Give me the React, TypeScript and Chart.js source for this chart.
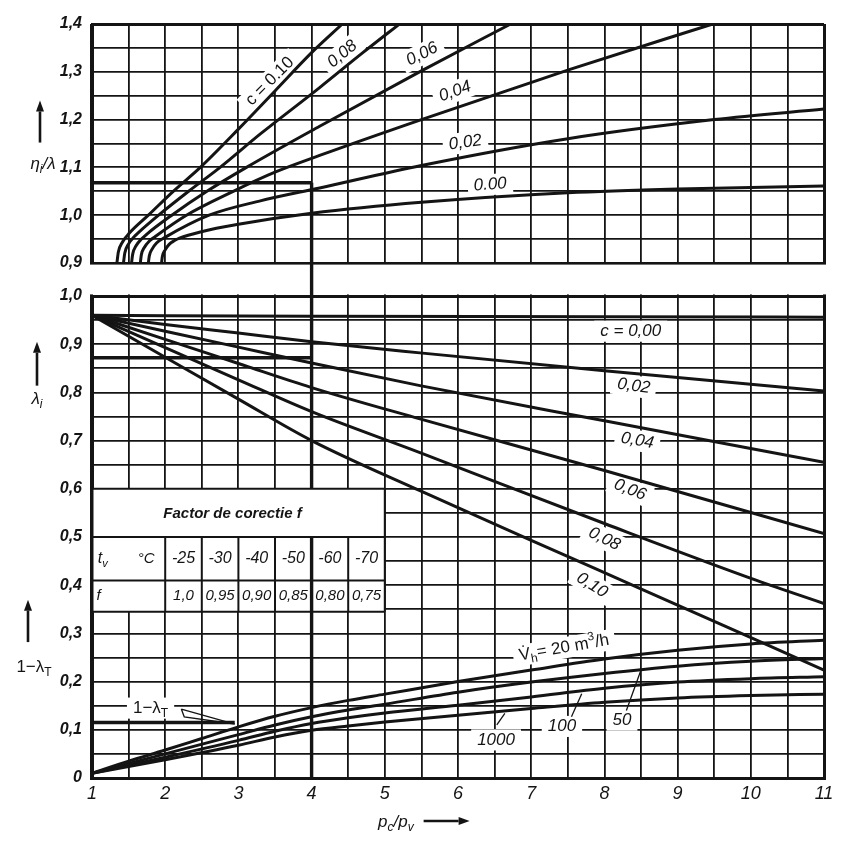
import React, { useEffect, useRef } from 'react';
import { Chart, registerables } from 'chart.js';

Chart.register(...registerables);

const FF = "'Liberation Sans', Arial, 'DejaVu Sans', sans-serif";
const INK = '#141414';

// ---------- axes ----------
const xRange = [1, 11];
const xTickValues = [1, 2, 3, 4, 5, 6, 7, 8, 9, 10, 11];
const xTickLabels = ['1', '2', '3', '4', '5', '6', '7', '8', '9', '10', '11'];
const topYRange = [0.9, 1.4];
const topTickValues = [0.9, 1.0, 1.1, 1.2, 1.3, 1.4];
const topTickLabels = ['0,9', '1,0', '1,1', '1,2', '1,3', '1,4'];
const botYRange = [0, 1.0];
const botTickValues = [0, 0.1, 0.2, 0.3, 0.4, 0.5, 0.6, 0.7, 0.8, 0.9, 1.0];
const botTickLabels = ['0', '0,1', '0,2', '0,3', '0,4', '0,5', '0,6', '0,7', '0,8', '0,9', '1,0'];

// ---------- top panel: eta_i / lambda, one curve per c ----------
const topC000 = [[1.95, 0.9], [1.962, 0.914], [1.998, 0.927], [2.054, 0.939], [2.128, 0.947], [2.195, 0.952], [2.48, 0.965], [3.0, 0.981], [4.0, 1.004], [5.5, 1.027], [7.5, 1.047], [9.0, 1.055], [11, 1.061]];
const topC002 = [[1.77, 0.9], [1.783, 0.915], [1.821, 0.929], [1.882, 0.942], [1.991, 0.953], [2.6, 1.0], [3.3, 1.03], [4.11, 1.057], [5.5, 1.104], [7.5, 1.16], [9.5, 1.2], [11, 1.222]];
const topC004 = [[1.66, 0.9], [1.674, 0.917], [1.717, 0.933], [1.784, 0.946], [1.86, 0.955], [2.29, 1.0], [2.93, 1.05], [3.5, 1.09], [4.11, 1.125], [5.5, 1.2], [7.53, 1.305], [9.48, 1.4]];
const topC006 = [[1.54, 0.9], [1.556, 0.9185], [1.602, 0.936], [1.676, 0.95], [1.731, 0.958], [2.09, 1.0], [2.57, 1.05], [3.11, 1.1], [4.11, 1.186], [5.5, 1.302], [6.72, 1.4]];
const topC008 = [[1.43, 0.9], [1.448, 0.921], [1.5, 0.94], [1.582, 0.956], [1.63, 0.963], [1.91, 1.0], [2.32, 1.05], [2.75, 1.1], [3.3, 1.17], [4.11, 1.267], [4.7, 1.34], [5.2, 1.4]];
const topC010 = [[1.34, 0.9], [1.36, 0.923], [1.417, 0.944], [1.508, 0.962], [1.77, 1.0], [2.11, 1.05], [2.48, 1.1], [3.0, 1.18], [3.5, 1.26], [4.0, 1.34], [4.42, 1.4]];

// ---------- bottom panel: lambda_i, one line per c ----------
const botC000 = [[1, 0.96], [4, 0.958], [8, 0.957], [11, 0.956]];
const botC002 = [[1, 0.96], [2, 0.941], [3, 0.923], [4, 0.905], [5.48, 0.882], [8, 0.845], [11, 0.803]];
const botC004 = [[1, 0.96], [2, 0.927], [3, 0.894], [4, 0.861], [5.48, 0.814], [8, 0.741], [11, 0.655]];
const botC006 = [[1, 0.96], [2, 0.91], [3, 0.86], [4, 0.81], [5.48, 0.745], [8, 0.638], [11, 0.507]];
const botC008 = [[1, 0.96], [2, 0.893], [3, 0.826], [4, 0.76], [5.48, 0.675], [8, 0.528], [10.08, 0.41], [11, 0.362]];
const botC010 = [[1, 0.96], [2, 0.873], [3, 0.786], [4, 0.7], [5.48, 0.596], [7, 0.493], [8.49, 0.393], [11, 0.224]];

// ---------- bottom panel: 1 - lambda_T, one curve per V_h ----------
const lamT20 = [[1, 0.01], [1.5, 0.035], [2, 0.058], [2.5, 0.082], [3, 0.106], [3.5, 0.128], [4, 0.146], [4.5, 0.161], [5, 0.174], [6, 0.2], [7, 0.224], [8, 0.247], [9, 0.265], [10, 0.278], [11, 0.286]];
const lamT50 = [[1, 0.01], [2, 0.05], [3, 0.09], [3.5, 0.11], [4, 0.127], [4.5, 0.141], [5, 0.153], [6, 0.178], [7, 0.199], [8, 0.217], [9, 0.232], [10, 0.242], [11, 0.248]];
const lamT100 = [[1, 0.01], [2, 0.043], [3, 0.078], [3.5, 0.097], [4, 0.113], [4.5, 0.125], [5, 0.135], [6, 0.151], [7, 0.168], [8, 0.186], [9, 0.199], [10, 0.206], [11, 0.21]];
const lamT1000 = [[1, 0.01], [2, 0.038], [3, 0.068], [3.5, 0.085], [4, 0.099], [4.5, 0.108], [5, 0.116], [6, 0.13], [7, 0.144], [8, 0.157], [9, 0.166], [10, 0.171], [11, 0.174]];

// ---------- example reading lines ----------
const readTopH = [[1, 1.068], [4, 1.068]];
const readTopV = [[4, 1.068], [4, 0.9]];
const readGapV = [[4, 0], [4, 1]];
const readBotV1 = [[4, 1.0], [4, 0.6]];
const readBotV2 = [[4, 0.5], [4, 0]];
const readBotH = [[1, 0.872], [4, 0.872]];
const readLamTH = [[1, 0.115], [2.95, 0.115]];
const lamTPointer = [[2.22, 0.143], [2.95, 0.112], [2.26, 0.127], [2.22, 0.143]];
const lead50 = [[8.3, 0.14], [8.5, 0.224]];
const lead100 = [[7.55, 0.127], [7.69, 0.175]];
const lead1000 = [[6.53, 0.11], [6.64, 0.134]];

// ---------- correction factor table ----------
const tvValues = ['-25', '-30', '-40', '-50', '-60', '-70'];
const fValues = ['1,0', '0,95', '0,90', '0,85', '0,80', '0,75'];

type Part = [string, ('sub' | 'sup')?];

// label annotations (placement only)
const curveLabels: { axis: string; parts: Part[]; x: number; y: number; rot: number; style: string; size: number }[] = [
  { axis: 'yTop', parts: [['c = 0.10']], x: 3.43, y: 1.28, rot: -45, style: 'normal', size: 17 },
  { axis: 'yTop', parts: [['0,08']], x: 4.42, y: 1.337, rot: -40, style: 'italic', size: 17 },
  { axis: 'yTop', parts: [['0,06']], x: 5.51, y: 1.337, rot: -27, style: 'italic', size: 17 },
  { axis: 'yTop', parts: [['0,04']], x: 5.96, y: 1.259, rot: -20, style: 'italic', size: 17 },
  { axis: 'yTop', parts: [['0,02']], x: 6.1, y: 1.152, rot: -8, style: 'italic', size: 17 },
  { axis: 'yTop', parts: [['0.00']], x: 6.44, y: 1.064, rot: -4, style: 'italic', size: 17 },
  { axis: 'yBot', parts: [['c = 0,00']], x: 8.36, y: 0.927, rot: 0, style: 'italic', size: 17 },
  { axis: 'yBot', parts: [['0,02']], x: 8.4, y: 0.813, rot: 8, style: 'italic', size: 17 },
  { axis: 'yBot', parts: [['0,04']], x: 8.45, y: 0.7, rot: 10, style: 'italic', size: 17 },
  { axis: 'yBot', parts: [['0,06']], x: 8.35, y: 0.598, rot: 22, style: 'italic', size: 17 },
  { axis: 'yBot', parts: [['0,08']], x: 8.0, y: 0.496, rot: 27, style: 'italic', size: 17 },
  { axis: 'yBot', parts: [['0,10']], x: 7.83, y: 0.4, rot: 32, style: 'italic', size: 17 },
  { axis: 'yBot', parts: [['V\u0307'], ['h', 'sub'], ['= 20 m'], ['3', 'sup'], ['/h']], x: 7.45, y: 0.27, rot: -10, style: 'normal', size: 17 },
  { axis: 'yBot', parts: [['50']], x: 8.24, y: 0.12, rot: 0, style: 'italic', size: 17 },
  { axis: 'yBot', parts: [['100']], x: 7.42, y: 0.107, rot: 0, style: 'italic', size: 17 },
  { axis: 'yBot', parts: [['1000']], x: 6.52, y: 0.079, rot: 0, style: 'italic', size: 17 },
  { axis: 'yBot', parts: [['1\u2212\u03bb'], ['T', 'sub']], x: 1.8, y: 0.145, rot: 0, style: 'normal', size: 17 },
];

function fontOf(style: string, size: number) {
  return `${style} ${size}px ${FF}`;
}
function measureParts(ctx: CanvasRenderingContext2D, parts: Part[], size: number, style: string) {
  let w = 0;
  for (const [t, k] of parts) {
    ctx.font = fontOf(style, k ? Math.round(size * 0.7) : size);
    w += ctx.measureText(t).width;
  }
  return w;
}
function drawParts(ctx: CanvasRenderingContext2D, parts: Part[], x: number, y: number, size: number, style: string, align: string) {
  const w = measureParts(ctx, parts, size, style);
  let cx = align === 'left' ? x : align === 'right' ? x - w : x - w / 2;
  ctx.textAlign = 'left';
  ctx.textBaseline = 'middle';
  ctx.fillStyle = INK;
  for (const [t, k] of parts) {
    const s = k ? Math.round(size * 0.7) : size;
    ctx.font = fontOf(style, s);
    const dy = k === 'sub' ? size * 0.32 : k === 'sup' ? -size * 0.36 : 0;
    ctx.fillText(t, cx, y + dy);
    cx += ctx.measureText(t).width;
  }
  return w;
}
function drawLabel(ctx: CanvasRenderingContext2D, parts: Part[], px: number, py: number, rot: number, size: number, style: string) {
  ctx.save();
  ctx.translate(px, py);
  ctx.rotate((rot * Math.PI) / 180);
  const w = measureParts(ctx, parts, size, style);
  ctx.fillStyle = '#fff';
  ctx.fillRect(-w / 2 - 6, -size * 0.62, w + 12, size * 1.24);
  drawParts(ctx, parts, 0, 0, size, style, 'center');
  ctx.restore();
}
function drawArrow(ctx: CanvasRenderingContext2D, x1: number, y1: number, x2: number, y2: number) {
  const a = Math.atan2(y2 - y1, x2 - x1);
  const hl = 11, hw = 4;
  ctx.save();
  ctx.strokeStyle = INK;
  ctx.fillStyle = INK;
  ctx.lineWidth = 2.6;
  ctx.beginPath();
  ctx.moveTo(x1, y1);
  ctx.lineTo(x2 - hl * Math.cos(a), y2 - hl * Math.sin(a));
  ctx.stroke();
  ctx.beginPath();
  ctx.moveTo(x2, y2);
  ctx.lineTo(x2 - hl * Math.cos(a) + hw * Math.sin(a), y2 - hl * Math.sin(a) - hw * Math.cos(a));
  ctx.lineTo(x2 - hl * Math.cos(a) - hw * Math.sin(a), y2 - hl * Math.sin(a) + hw * Math.cos(a));
  ctx.closePath();
  ctx.fill();
  ctx.restore();
}

const nomogramPlugin = {
  id: 'nomogram',
  beforeDatasetsDraw(chart: any) {
    const { ctx, chartArea, scales } = chart;
    const xs = scales.x, yt = scales.yTop, yb = scales.yBot;
    ctx.save();
    // blank gap between the two panels
    ctx.fillStyle = '#fff';
    ctx.fillRect(chartArea.left - 8, yt.bottom + 1.6, chartArea.right - chartArea.left + 16, yb.top - yt.bottom - 3.2);

    // correction factor table
    const X = (v: number) => xs.getPixelForValue(v);
    const Y = (v: number) => yb.getPixelForValue(v);
    const rows = [0.6, 0.5, 0.41, 0.345];
    const x1 = X(1), x5 = X(5);
    ctx.fillStyle = '#fff';
    ctx.fillRect(x1 + 1.5, Y(rows[0]), x5 - x1 - 1.5, Y(rows[3]) - Y(rows[0]));
    ctx.strokeStyle = INK;
    ctx.lineWidth = 2;
    ctx.beginPath();
    for (const r of rows) {
      ctx.moveTo(x1, Y(r));
      ctx.lineTo(x5, Y(r));
    }
    ctx.moveTo(x5, Y(rows[0]));
    ctx.lineTo(x5, Y(rows[3]));
    for (let i = 0; i < 6; i++) {
      const cx = 2 + 0.5 * i;
      if (cx === 4) continue;
      ctx.moveTo(X(cx), Y(rows[1]));
      ctx.lineTo(X(cx), Y(rows[3]));
    }
    ctx.stroke();
    drawParts(ctx, [['Factor de corectie f']], X(2.92), Y(0.547), 15, 'italic bold', 'center');
    const ytv = Y(0.455), yf = Y(0.378);
    drawParts(ctx, [['t'], ['v', 'sub']], X(1.08), ytv, 16, 'italic', 'left');
    drawParts(ctx, [['\u00b0C']], X(1.74), ytv, 15, 'italic', 'center');
    drawParts(ctx, [['f']], X(1.06), yf, 15, 'italic', 'left');
    tvValues.forEach((t, i) => drawParts(ctx, [[t]], X(2.25 + 0.5 * i), ytv, 16, 'italic', 'center'));
    fValues.forEach((t, i) => drawParts(ctx, [[t]], X(2.25 + 0.5 * i), yf, 15, 'italic', 'center'));

    // curve labels
    for (const l of curveLabels) {
      const ys = scales[l.axis];
      drawLabel(ctx, l.parts, xs.getPixelForValue(l.x), ys.getPixelForValue(l.y), l.rot, l.size, l.style);
    }
    ctx.restore();
  },
  afterDraw(chart: any) {
    const { ctx, chartArea, scales } = chart;
    const yt = scales.yTop, yb = scales.yBot;
    const L = chartArea.left;
    ctx.save();
    // eta_i / lambda
    drawArrow(ctx, L - 52, yt.getPixelForValue(1.152), L - 52, yt.getPixelForValue(1.24));
    drawParts(ctx, [['\u03b7'], ['i', 'sub'], ['/\u03bb']], L - 49, yt.getPixelForValue(1.106), 17, 'italic', 'center');
    // lambda_i
    drawArrow(ctx, L - 55, yb.getPixelForValue(0.814), L - 55, yb.getPixelForValue(0.905));
    drawParts(ctx, [['\u03bb'], ['i', 'sub']], L - 55, yb.getPixelForValue(0.785), 17, 'italic', 'center');
    // 1 - lambda_T
    drawArrow(ctx, L - 64, yb.getPixelForValue(0.282), L - 64, yb.getPixelForValue(0.37));
    drawParts(ctx, [['1\u2212\u03bb'], ['T', 'sub']], L - 58, yb.getPixelForValue(0.23), 17, 'normal', 'center');
    // x title
    const tx = (chartArea.left + chartArea.right) / 2 - 80;
    const ty = chartArea.bottom + 44;
    const w = drawParts(ctx, [['p'], ['c', 'sub'], ['/p'], ['v', 'sub']], tx, ty, 17, 'italic', 'left');
    drawArrow(ctx, tx + w + 10, ty - 1, tx + w + 56, ty - 1);
    ctx.restore();
  },
};

const toPts = (a: number[][]) => a.map(([x, y]) => ({ x, y }));

function curve(data: number[][], axis: string, width = 3, smooth = true) {
  return {
    data: toPts(data),
    yAxisID: axis,
    borderColor: INK,
    borderWidth: width,
    pointRadius: 0,
    fill: false,
    tension: 0,
    cubicInterpolationMode: smooth ? 'monotone' : 'default',
  };
}

function tickFmt(values: number[], labels: string[]) {
  return (v: any) => {
    const i = values.findIndex((t) => Math.abs(t - Number(v)) < 1e-6);
    return i >= 0 ? labels[i] : '';
  };
}

function isEdge(v: number, range: number[]) {
  return Math.abs(v - range[0]) < 1e-6 || Math.abs(v - range[1]) < 1e-6;
}

export default function App() {
  const ref = useRef<HTMLCanvasElement | null>(null);
  useEffect(() => {
    if (!ref.current) return;
    const tickFont = { family: FF, size: 16, style: 'italic' as const, weight: 'bold' as const };
    const chart = new Chart(ref.current, {
      type: 'line',
      data: {
        datasets: [
          curve(topC000, 'yTop'), curve(topC002, 'yTop'), curve(topC004, 'yTop'),
          curve(topC006, 'yTop'), curve(topC008, 'yTop'), curve(topC010, 'yTop'),
          curve(botC000, 'yBot'), curve(botC002, 'yBot'), curve(botC004, 'yBot'),
          curve(botC006, 'yBot'), curve(botC008, 'yBot'), curve(botC010, 'yBot'),
          curve(lamT20, 'yBot'), curve(lamT50, 'yBot'), curve(lamT100, 'yBot'), curve(lamT1000, 'yBot'),
          curve(readTopH, 'yTop', 3.4, false), curve(readTopV, 'yTop', 3.4, false),
          curve(readGapV, 'yGap', 3.4, false), curve(readBotV1, 'yBot', 3.4, false),
          curve(readBotV2, 'yBot', 3.4, false), curve(readBotH, 'yBot', 3.4, false),
          curve(readLamTH, 'yBot', 3.4, false), curve(lamTPointer, 'yBot', 1.3, false),
          curve(lead50, 'yBot', 1.3, false), curve(lead100, 'yBot', 1.3, false), curve(lead1000, 'yBot', 1.3, false),
        ] as any,
      },
      options: {
        animation: false,
        responsive: false,
        devicePixelRatio: 1,
        layout: { padding: { left: 40, right: 22, top: 24, bottom: 31 } },
        plugins: { legend: { display: false }, tooltip: { enabled: false } },
        events: [],
        scales: {
          x: {
            type: 'linear',
            min: xRange[0],
            max: xRange[1],
            position: 'bottom',
            ticks: {
              stepSize: 0.5,
              autoSkip: false,
              maxRotation: 0,
              padding: 5,
              color: INK,
              font: { family: FF, size: 18, style: 'italic' },
              callback: tickFmt(xTickValues, xTickLabels),
            },
            grid: {
              color: INK,
              drawTicks: false,
              lineWidth: (c: any) => (c.tick && isEdge(c.tick.value, xRange) ? 3 : 1.8),
            },
            border: { color: INK, width: 3 },
            afterFit: (s: any) => { s.height = 40; },
          },
          yTop: {
            type: 'linear',
            position: 'left',
            stack: 'panels',
            stackWeight: 239,
            weight: 3,
            min: topYRange[0],
            max: topYRange[1],
            ticks: { stepSize: 0.05, autoSkip: false, padding: 10, color: INK, font: tickFont, callback: tickFmt(topTickValues, topTickLabels) },
            grid: { color: INK, drawTicks: false, lineWidth: (c: any) => (c.tick && isEdge(c.tick.value, topYRange) ? 3 : 1.8) },
            border: { color: INK, width: 3 },
            afterFit: (s: any) => { s.width = 52; },
          },
          yGap: {
            type: 'linear',
            position: 'left',
            stack: 'panels',
            stackWeight: 33,
            weight: 2,
            min: 0,
            max: 1,
            ticks: { display: false },
            grid: { display: false },
            border: { display: false },
            afterFit: (s: any) => { s.width = 52; },
          },
          yBot: {
            type: 'linear',
            position: 'left',
            stack: 'panels',
            stackWeight: 482,
            weight: 1,
            min: botYRange[0],
            max: botYRange[1],
            ticks: { stepSize: 0.05, autoSkip: false, padding: 10, color: INK, font: tickFont, callback: tickFmt(botTickValues, botTickLabels) },
            grid: { color: INK, drawTicks: false, lineWidth: (c: any) => (c.tick && isEdge(c.tick.value, botYRange) ? 3 : 1.8) },
            border: { color: INK, width: 3 },
            afterFit: (s: any) => { s.width = 52; },
          },
        } as any,
      },
      plugins: [nomogramPlugin],
    });
    return () => chart.destroy();
  }, []);
  return (
    <div style={{ position: 'fixed', left: 0, top: 0, width: 846, height: 849, background: '#fff' }}>
      <canvas ref={ref} width={846} height={849} style={{ display: 'block' }} />
    </div>
  );
}
